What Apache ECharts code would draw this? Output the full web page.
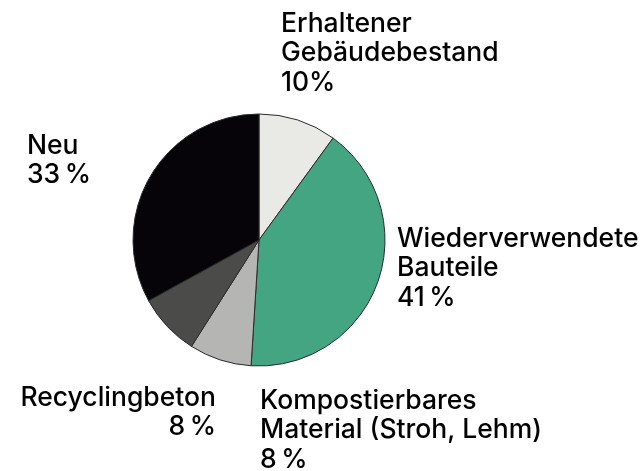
<!DOCTYPE html>
<html>
<head>
<meta charset="utf-8">
<script src="https://cdn.jsdelivr.net/npm/echarts@6/dist/echarts.min.js"></script>
<style>
  html,body{margin:0;padding:0;background:#fff;}
  #main{width:641px;height:471px;}
</style>
</head>
<body>
<div id="main"></div>
<script>
// slices clockwise from 12 o'clock
var names = ['Erhaltener\nGebäudebestand', 'Wiederverwendete\nBauteile', 'Kompostierbares\nMaterial (Stroh, Lehm)', 'Recyclingbeton', 'Neu'];
var values = [10, 41, 8, 8, 33];
var pctSep = ['', '\u2009', '\u2009', '\u2009', '\u2009'];
var colors = ['#e9e9e5', '#44a583', '#b5b5b3', '#4b4c49', '#060409'];

// label anchor points (left/top of the text block), right aligned for Recyclingbeton
var labelPos = [
  {x: 281, y: 9, align: 'left'},
  {x: 397, y: 224, align: 'left'},
  {x: 260, y: 386, align: 'left'},
  {x: 216, y: 383, align: 'right'},
  {x: 27, y: 131, align: 'left'}
];

var myChart = echarts.init(document.getElementById('main'));

var seriesData = [];
for (var i = 0; i < names.length; i++) {
  seriesData.push({
    name: names[i],
    value: values[i],
    itemStyle: {color: colors[i]},
    label: {align: labelPos[i].align}
  });
}

var option = {
  animation: false,
  series: [{
    type: 'pie',
    center: [259, 240],
    radius: [0, 126],
    startAngle: 90,
    clockwise: true,
    data: seriesData,
    itemStyle: {
      borderColor: '#2a2a2a',
      borderWidth: 1
    },
    emphasis: {disabled: true},
    labelLine: {show: false},
    label: {
      show: true,
      position: 'outside',
      overflow: 'none',
      width: 400,
      fontFamily: 'Inter',
      fontSize: 26.5,
      fontWeight: 500,
      lineHeight: 29.5,
      color: '#000',
      formatter: function (p) {
        return p.name + '\n' + p.value + pctSep[p.dataIndex] + '%';
      }
    },
    labelLayout: function (params) {
      var lp = labelPos[params.dataIndex];
      return {
        x: lp.x,
        y: lp.y,
        align: lp.align,
        verticalAlign: 'top'
      };
    }
  }]
};
myChart.setOption(option);
</script>
</body>
</html>
